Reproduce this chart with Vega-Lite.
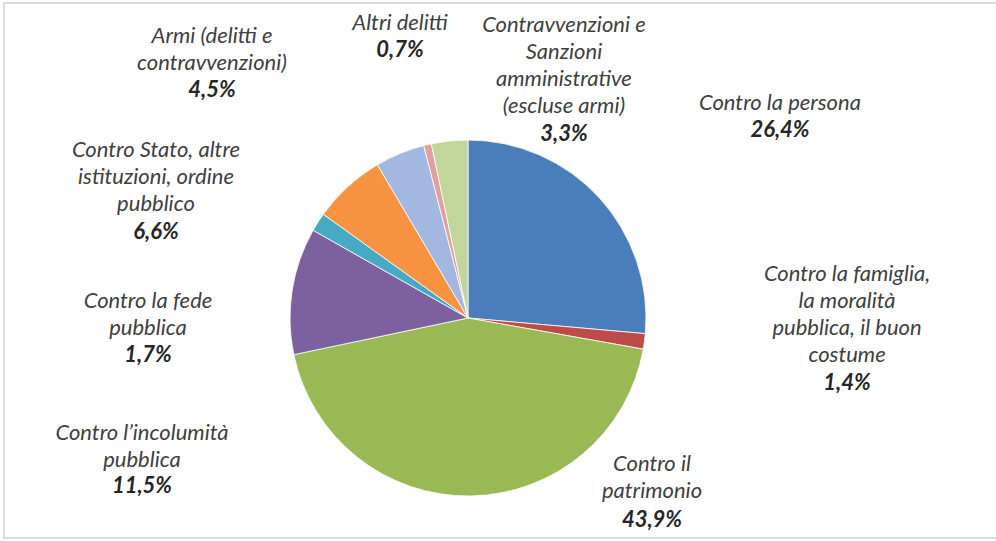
{
  "$schema": "https://vega.github.io/schema/vega-lite/v6.json",
  "width": 996,
  "height": 535,
  "autosize": "none",
  "padding": {"left": 4, "top": 3, "right": 0, "bottom": 3},
  "background": "#ffffff",
  "view": {"stroke": "#d0d0d0", "strokeWidth": 1.5, "fill": "#ffffff"},
  "config": {"view": {"stroke": "#d0d0d0", "strokeWidth": 1.5}},
  "data": {
    "values": [
      {"order": 0, "categoria": "Contro la persona", "valore": 26.4},
      {"order": 1, "categoria": "Contro la famiglia,\nla moralità\npubblica, il buon\ncostume", "valore": 1.4},
      {"order": 2, "categoria": "Contro il\npatrimonio", "valore": 43.9},
      {"order": 3, "categoria": "Contro l’incolumità\npubblica", "valore": 11.5},
      {"order": 4, "categoria": "Contro la fede\npubblica", "valore": 1.7},
      {"order": 5, "categoria": "Contro Stato, altre\nistituzioni, ordine\npubblico", "valore": 6.6},
      {"order": 6, "categoria": "Armi (delitti e\ncontravvenzioni)", "valore": 4.5},
      {"order": 7, "categoria": "Altri delitti", "valore": 0.7},
      {"order": 8, "categoria": "Contravvenzioni e\nSanzioni\namministrative\n(escluse armi)", "valore": 3.3}
    ]
  },
  "transform": [
    {"calculate": "replace(format(datum.valore, '.1f'), '.', ',') + '%'", "as": "pct"}
  ],
  "encoding": {
    "theta": {"field": "valore", "type": "quantitative", "stack": true},
    "order": {"field": "order", "type": "quantitative"}
  },
  "layer": [
    {
      "mark": {"type": "arc", "outerRadius": 178, "x": 464, "y": 315, "stroke": "#ffffff", "strokeWidth": 0.8},
      "encoding": {
        "color": {
          "field": "order",
          "type": "nominal",
          "legend": null,
          "scale": {
            "domain": [0, 1, 2, 3, 4, 5, 6, 7, 8],
            "range": ["#4A7EBB", "#BE4B48", "#98B954", "#7D60A0", "#46AAC5", "#F69240", "#A3B8E0", "#DFA09E", "#C2D69B"]
          }
        }
      }
    },
    {
      "mark": {
        "type": "text", "x": 464, "y": 315, "radius": 178,
        "font": "Lato", "fontStyle": "italic", "fontSize": 22,
        "lineBreak": "\n", "lineHeight": 27,
        "align": "center", "baseline": "alphabetic", "color": "#404040",
        "dx": {"expr": "[180.7, 202.6, 181.2, -150.1, -170.0, -191.8, -187.9, -27.5, 114.4][datum.order]"},
        "dy": {"expr": "[-87.8, -60.4, -25.0, 149.3, 85.8, -29.7, -110.6, -114.7, -109.0][datum.order]"}
      },
      "encoding": {"text": {"field": "categoria", "type": "nominal"}}
    },
    {
      "mark": {
        "type": "text", "x": 464, "y": 315, "radius": 178,
        "font": "Lato", "fontStyle": "italic", "fontWeight": "bold", "fontSize": 22,
        "align": "center", "baseline": "alphabetic", "color": "#262626",
        "dx": {"expr": "[180.7, 202.6, 181.2, -150.1, -170.0, -191.8, -187.9, -27.5, 114.4][datum.order]"},
        "dy": {"expr": "[-60.8, 48.6, 31.0, 202.3, 139.8, 52.3, -56.6, -87.7, 0.0][datum.order]"}
      },
      "encoding": {"text": {"field": "pct", "type": "nominal"}}
    }
  ]
}
